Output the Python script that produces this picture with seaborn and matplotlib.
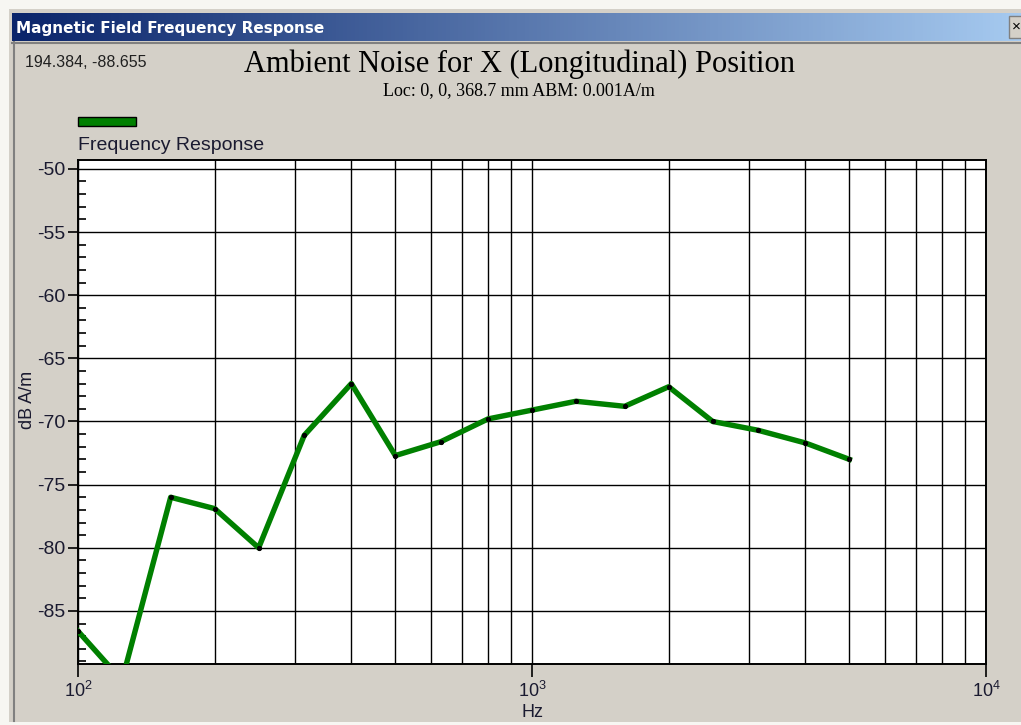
import numpy as np
import pandas as pd
import seaborn as sns
import matplotlib.pyplot as plt
from matplotlib.patches import Rectangle
from matplotlib.colors import LinearSegmentedColormap
from matplotlib.ticker import MultipleLocator, LogLocator, NullFormatter

# 1/3 octave bands and measured level
freq_hz = [100, 125, 160, 200, 250, 315, 400, 500, 630, 800,
           1000, 1250, 1600, 2000, 2500, 3150, 4000, 5000]
level_db = [-86.6, -90.5, -76.0, -76.9, -80.0, -71.1, -67.0, -72.7, -71.6, -69.8,
            -69.1, -68.4, -68.8, -67.25, -70.0, -70.7, -71.7, -73.0]
y_ticks = [-85, -80, -75, -70, -65, -60, -55, -50]

data = pd.DataFrame({"Hz": freq_hz, "dB A/m": level_db})

plt.rcParams['font.family'] = ['Liberation Sans', 'DejaVu Sans']
plt.rcParams['axes.unicode_minus'] = False
plt.rcParams['mathtext.fontset'] = 'custom'
plt.rcParams['mathtext.rm'] = 'Liberation Sans'

W, H = 1021, 725
fig = plt.figure(figsize=(W / 100, H / 100), dpi=100, facecolor='#F7F6F2')

# window chrome drawn in pixel coordinates
bg = fig.add_axes([0, 0, 1, 1], zorder=0)
bg.set_xlim(0, W)
bg.set_ylim(H, 0)
bg.axis('off')
bg.add_patch(Rectangle((9, 9), W, 713, facecolor='#D4D0C8', edgecolor='none'))
bg.plot([13.5, 13.5], [42, 721], color='#808080', lw=1.5)
bg.plot([12, W], [42.5, 42.5], color='#808080', lw=1.5)
grad = np.linspace(0, 1, 256).reshape(1, -1)
cmap = LinearSegmentedColormap.from_list('tb', ['#0A246A', '#A6CAF0'])
bg.imshow(grad, cmap=cmap, aspect='auto', extent=[12, W, 41, 13], zorder=1)
bg.text(16, 28, 'Magnetic Field Frequency Response', color='white', fontweight='bold',
        fontsize=11, family='DejaVu Sans', va='center', ha='left', zorder=2)
bg.add_patch(Rectangle((1009, 16), 14, 22, facecolor='#D4D0C8', edgecolor='#808080', lw=1, zorder=2))
bg.text(1016, 27, '×', fontsize=11, va='center', ha='center', color='black', zorder=3)

bg.text(25, 62, '194.384, -88.655', fontsize=11.5, va='center', ha='left', color='#202020')
bg.text(519, 64, 'Ambient Noise for X (Longitudinal) Position', fontsize=22,
        family='Liberation Serif', va='center', ha='center', color='black')
bg.text(519, 91, 'Loc: 0, 0, 368.7 mm ABM: 0.001A/m', fontsize=13,
        family='Liberation Serif', va='center', ha='center', color='black')
bg.add_patch(Rectangle((78, 117), 58, 9, facecolor='#008000', edgecolor='black', lw=1))
bg.text(78, 145, 'Frequency Response', fontsize=14, va='center', ha='left', color='#1a1a30')

# main plot
left, right, top, bottom = 78, 986, 160, 664
ax = fig.add_axes([left / W, (H - bottom) / H, (right - left) / W, (bottom - top) / H], zorder=1)
ax.set_facecolor('white')
sns.lineplot(data=data, x="Hz", y="dB A/m", color='#008000', linewidth=3.9,
             marker='o', markersize=3, markerfacecolor='black', markeredgecolor='black',
             ax=ax, zorder=3)
ax.set_xscale('log')
ax.set_xlim(100, 10000)
ax.set_ylim(-89.2, -49.3)

ax.xaxis.set_major_locator(LogLocator(base=10))
ax.xaxis.set_minor_locator(LogLocator(base=10, subs=np.arange(2, 10)))
ax.xaxis.set_minor_formatter(NullFormatter())
ax.set_yticks(y_ticks)
ax.yaxis.set_minor_locator(MultipleLocator(1))

ax.grid(True, which='major', axis='both', color='black', lw=1.0)
ax.grid(True, which='minor', axis='x', color='black', lw=1.0)
ax.set_axisbelow(True)
for s in ax.spines.values():
    s.set_color('black')
    s.set_linewidth(1.4)

ax.tick_params(axis='y', which='major', direction='out', length=7, width=1.2,
               labelsize=14, pad=2, labelcolor='#1a1a30')
ax.tick_params(axis='y', which='minor', direction='in', length=6, width=1.2)
ax.tick_params(axis='x', which='major', direction='out', length=9, width=1.2,
               labelsize=13, pad=3, labelcolor='#1a1a30')
ax.tick_params(axis='x', which='minor', length=0)

ax.set_xlabel('Hz', fontsize=13, color='#1a1a30')
ax.set_ylabel('dB A/m', fontsize=13, color='#1a1a30')
ax.xaxis.set_label_coords(0.501, -0.080)
ax.yaxis.set_label_coords(-0.046, 0.524)

fig.savefig('out.png', dpi=100, facecolor=fig.get_facecolor())
